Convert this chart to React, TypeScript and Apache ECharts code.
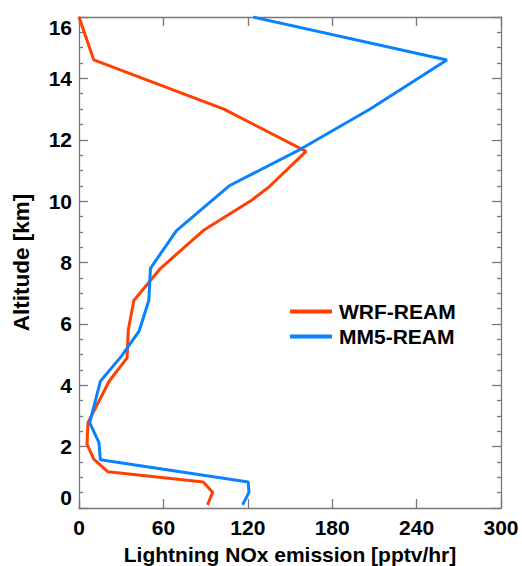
import React, { useEffect, useRef } from "react";
import * as echarts from "echarts";

const xTicks = [0, 60, 120, 180, 240, 300];
const yTicks = [0, 2, 4, 6, 8, 10, 12, 14, 16];

const wrfAltitude = [16.0, 14.6, 13.0, 11.62, 10.46, 10.03, 9.04, 7.81, 6.76, 5.79, 4.89, 4.13, 2.78, 2.08, 1.59, 1.18, 0.85, 0.51, 0.1];
const wrfEmission = [0, 10.5, 103, 161.4, 135, 122.7, 88.3, 58, 39, 35, 34.2, 21.4, 6.4, 5.7, 10.5, 20.6, 88.3, 95, 91.4];

const mm5Altitude = [16.0, 14.6, 13.0, 11.68, 10.5, 9.04, 7.81, 6.76, 5.76, 4.95, 4.13, 2.78, 2.13, 1.57, 0.85, 0.51, 0.1];
const mm5Emission = [123.8, 261.5, 207, 157, 106.8, 69.3, 50.8, 49.6, 42.7, 30.2, 15.2, 7.6, 14.2, 15.2, 120.3, 120.8, 116.3];

const seriesNames = ["WRF-REAM", "MM5-REAM"];
const seriesColors = ["#ff4000", "#0a82ff"];

const FONT = "'Liberation Sans', Arial, Helvetica, sans-serif";

export default function App() {
  const ref = useRef<HTMLDivElement>(null);
  useEffect(() => {
    if (!ref.current) return;
    const chart = echarts.init(ref.current, null, { renderer: "svg" });
    const axisLine = { show: true, onZero: false, lineStyle: { color: "#777", width: 1.3 } };
    const tick = { show: true, inside: true, length: 9, lineStyle: { color: "#777", width: 1.3 } };
    const minor = { show: true, splitNumber: 4, length: 4, lineStyle: { color: "#777", width: 1.3 } };
    const label = { fontFamily: FONT, fontWeight: "bold", fontSize: 21, color: "#000" };
    const xMin = xTicks[0];
    const xMax = xTicks[xTicks.length - 1];
    const yMin = yTicks[0];
    const yMax = yTicks[yTicks.length - 1];
    chart.setOption({
      animation: false,
      backgroundColor: "#fff",
      grid: { left: 79, right: 21, top: 17, bottom: 58, containLabel: false, outerBoundsMode: "none" },
      legend: {
        orient: "vertical",
        left: 290,
        top: 301,
        padding: 0,
        itemWidth: 42,
        itemHeight: 4,
        itemGap: 4,
        icon: "rect",
        data: seriesNames,
        textStyle: { fontFamily: FONT, fontWeight: "bold", fontSize: 21, color: "#000", lineHeight: 21, padding: [0, 0, 0, 2] },
      },
      xAxis: [
        {
          type: "value",
          min: xMin,
          max: xMax,
          interval: 60,
          position: "bottom",
          name: "Lightning NOx emission [pptv/hr]",
          nameLocation: "middle",
          nameGap: 36,
          nameTextStyle: label,
          axisLine,
          axisTick: tick,
          axisLabel: { ...label, margin: 9 },
          splitLine: { show: false },
        },
        {
          type: "value",
          min: xMin,
          max: xMax,
          interval: 60,
          position: "top",
          axisLine,
          axisTick: tick,
          axisLabel: { show: false },
          splitLine: { show: false },
        },
      ],
      yAxis: [
        {
          type: "value",
          min: yMin,
          max: yMax,
          interval: 2,
          position: "left",
          name: "Altitude [km]",
          nameLocation: "middle",
          nameGap: 46,
          nameRotate: 90,
          nameTextStyle: { ...label, fontSize: 22.5 },
          axisLine,
          axisTick: tick,
          minorTick: minor,
          axisLabel: { ...label, margin: 7, verticalAlignMinLabel: "bottom", verticalAlignMaxLabel: "top" },
          splitLine: { show: false },
        },
        {
          type: "value",
          min: yMin,
          max: yMax,
          interval: 2,
          position: "right",
          axisLine,
          axisTick: tick,
          minorTick: minor,
          axisLabel: { show: false },
          splitLine: { show: false },
        },
      ],
      series: [
        {
          name: seriesNames[0],
          type: "line",
          xAxisIndex: 0,
          yAxisIndex: 0,
          symbol: "none",
          color: seriesColors[0],
          lineStyle: { width: 3, color: seriesColors[0] },
          data: wrfEmission.map((v, i) => [v, wrfAltitude[i]]),
        },
        {
          name: seriesNames[1],
          type: "line",
          xAxisIndex: 0,
          yAxisIndex: 0,
          symbol: "none",
          color: seriesColors[1],
          lineStyle: { width: 3, color: seriesColors[1] },
          data: mm5Emission.map((v, i) => [v, mm5Altitude[i]]),
        },
      ],
    });
    return () => chart.dispose();
  }, []);
  return <div ref={ref} style={{ width: 522, height: 566, position: "absolute", left: 0, top: 0 }} />;
}
